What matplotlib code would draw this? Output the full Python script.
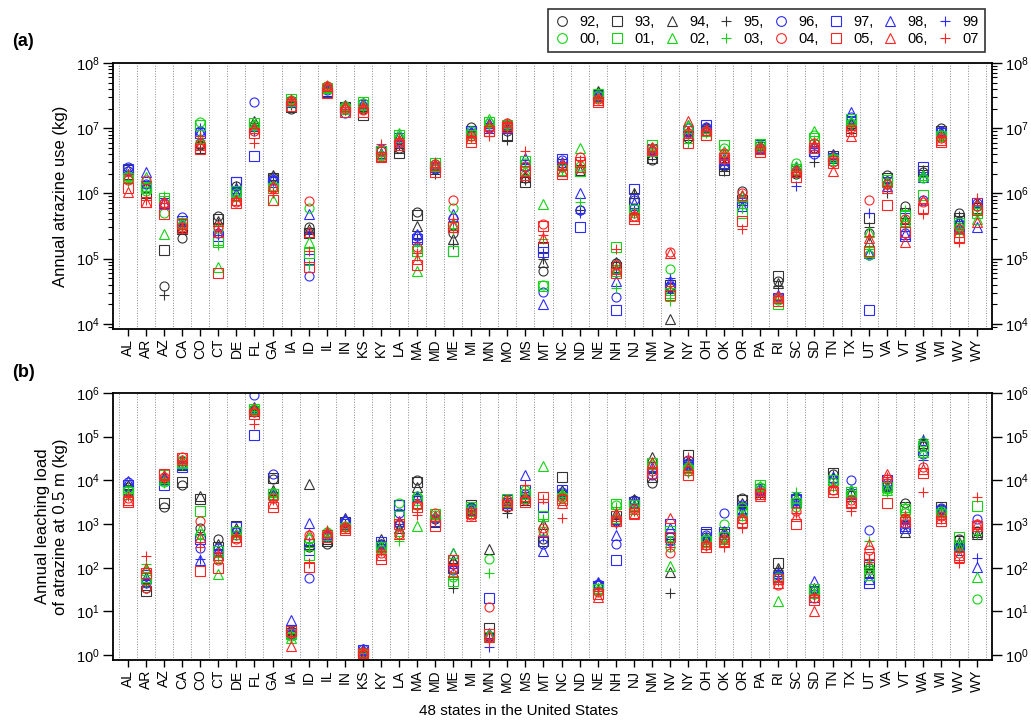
import numpy as np
import matplotlib
matplotlib.use("Agg")
import matplotlib.pyplot as plt
from matplotlib.lines import Line2D
from matplotlib.ticker import LogLocator, NullLocator, NullFormatter

plt.rcParams["font.family"] = ["Liberation Sans", "DejaVu Sans"]
plt.rcParams["mathtext.default"] = "regular"

states = ["AL", "AR", "AZ", "CA", "CO", "CT", "DE", "FL", "GA", "IA", "ID", "IL",
          "IN", "KS", "KY", "LA", "MA", "MD", "ME", "MI", "MN", "MO", "MS", "MT",
          "NC", "ND", "NE", "NH", "NJ", "NM", "NV", "NY", "OH", "OK", "OR", "PA",
          "RI", "SC", "SD", "TN", "TX", "UT", "VA", "VT", "WA", "WI", "WV", "WY"]

years = ["92", "93", "94", "95", "96", "97", "98", "99",
         "00", "01", "02", "03", "04", "05", "06", "07"]

# annual atrazine use (kg), one row per state, columns 1992..2007
use_kg = [
    [2.2e6, 2.3e6, 2.0e6, 2.0e6, 2.5e6, 2.4e6, 2.3e6, 1.6e6, 1.8e6, 1.7e6, 1.9e6, 1.5e6, 1.6e6, 1.2e6, 1.05e6, 2.0e6],  # AL
    [1.2e6, 1.0e6, 1.3e6, 1.1e6, 1.4e6, 1.3e6, 2.1e6, 1.2e6, 1.1e6, 1.2e6, 1.8e6, 1.1e6, 1.6e6, 7.5e5, 7.5e5, 8e5],  # AR
    [3.8e4, 1.35e5, 7.5e5, 2.8e4, 7e5, 7e5, 7.5e5, 7e5, 5e5, 8.5e5, 2.4e5, 9e5, 7e5, 4.8e5, 7.5e5, 7e5],  # AZ
    [2.05e5, 2.8e5, 3.0e5, 3.2e5, 4.4e5, 3.8e5, 3.5e5, 3.3e5, 3.3e5, 3.5e5, 3.6e5, 3.0e5, 3.0e5, 3.4e5, 2.9e5, 2.8e5],  # CA
    [5.5e6, 5e6, 6e6, 5e6, 9e6, 8.5e6, 9e6, 1e7, 1.25e7, 1.1e7, 7e6, 6.5e6, 6e6, 4.8e6, 5.5e6, 7.5e6],  # CO
    [4.5e5, 4e5, 3.8e5, 3.5e5, 2.5e5, 2.2e5, 2.6e5, 2.3e5, 2.8e5, 1.8e5, 7.5e4, 1.6e5, 3e5, 6e4, 2.6e5, 3.2e5],  # CT
    [1.3e6, 1.5e6, 1.2e6, 1.3e6, 1.1e6, 1.5e6, 1.0e6, 1.2e6, 1.0e6, 1.1e6, 9e5, 9e5, 7.5e5, 7e5, 8e5, 8e5],  # DE
    [1.1e7, 1.0e7, 1.3e7, 1.1e7, 2.5e7, 3.8e6, 1.0e7, 9e6, 1.1e7, 1.2e7, 1.1e7, 1.0e7, 9e6, 8.5e6, 1.0e7, 6e6],  # FL
    [1.8e6, 1.7e6, 1.9e6, 1.6e6, 1.6e6, 1.5e6, 1.7e6, 1.4e6, 1.3e6, 1.2e6, 8e5, 1.1e6, 1.2e6, 8e5, 1.3e6, 1.0e6],  # GA
    [2.0e7, 2.1e7, 2.5e7, 2.3e7, 2.6e7, 2.5e7, 2.6e7, 2.4e7, 2.7e7, 2.8e7, 2.6e7, 2.4e7, 2.6e7, 2.2e7, 2.7e7, 2.8e7],  # IA
    [3e5, 2.5e5, 2.8e5, 2.6e5, 5.5e4, 1e5, 4.8e5, 2.5e5, 6e5, 1.2e5, 1.8e5, 8e4, 7.6e5, 7.3e4, 2.6e5, 1.3e5],  # ID
    [4.2e7, 3.7e7, 4.3e7, 4.0e7, 3.8e7, 3.6e7, 4.4e7, 4.1e7, 4.5e7, 4.2e7, 4.3e7, 4.0e7, 4.4e7, 3.5e7, 4.5e7, 4.6e7],  # IL
    [2.2e7, 2.1e7, 2.3e7, 2.0e7, 1.7e7, 2.0e7, 2.1e7, 1.9e7, 2.2e7, 2.0e7, 2.1e7, 1.9e7, 2.0e7, 1.8e7, 2.2e7, 2.0e7],  # IN
    [2.0e7, 1.6e7, 2.2e7, 2.0e7, 2.2e7, 2.3e7, 2.4e7, 2.1e7, 2.4e7, 2.5e7, 2.3e7, 2.0e7, 1.9e7, 1.8e7, 2.1e7, 2.3e7],  # KS
    [4.5e6, 4.5e6, 4.0e6, 4.3e6, 4.8e6, 4.5e6, 4.2e6, 4.0e6, 3.8e6, 4.5e6, 4.0e6, 3.8e6, 4.5e6, 3.6e6, 3.8e6, 5.8e6],  # KY
    [5e6, 4.2e6, 5e6, 5.5e6, 6e6, 7e6, 7.5e6, 6e6, 7e6, 8e6, 8.5e6, 7.5e6, 6e6, 5.5e6, 6.5e6, 7e6],  # LA
    [5.2e5, 4.6e5, 3.2e5, 2.1e5, 2.2e5, 2.0e5, 2.4e5, 1.8e5, 1.4e5, 1.3e5, 6.5e4, 1.1e5, 1.5e5, 8e4, 1.0e5, 1.2e5],  # MA
    [2.4e6, 2.5e6, 2.8e6, 2.0e6, 2.6e6, 2.5e6, 2.7e6, 2.4e6, 2.8e6, 2.9e6, 2.6e6, 2.5e6, 2.8e6, 2.1e6, 2.7e6, 3.0e6],  # MD
    [2.5e5, 3e5, 2e5, 1.7e5, 4.2e5, 1.3e5, 4.8e5, 3.8e5, 6e5, 1.3e5, 3.5e5, 2.7e5, 7.8e5, 3e5, 3.3e5, 4e5],  # ME
    [1.05e7, 9e6, 9e6, 8e6, 8.5e6, 9e6, 8.5e6, 7.5e6, 9e6, 8e6, 8e6, 7e6, 7.5e6, 6.2e6, 7e6, 7.5e6],  # MI
    [1.0e7, 9e6, 1.1e7, 9.5e6, 1.05e7, 1.0e7, 1.2e7, 1.0e7, 1.2e7, 1.25e7, 1.4e7, 1.1e7, 1.0e7, 9e6, 1.1e7, 7.5e6],  # MN
    [9e6, 7.5e6, 1.0e7, 6.5e6, 1.1e7, 1.0e7, 1.1e7, 9.5e6, 1.15e7, 1.1e7, 1.2e7, 1.0e7, 1.2e7, 1.05e7, 1.1e7, 1.2e7],  # MO
    [1.7e6, 1.5e6, 1.8e6, 1.6e6, 2.5e6, 2.7e6, 3.5e6, 2.8e6, 2.9e6, 3.1e6, 2.3e6, 2.5e6, 2.6e6, 2.2e6, 1.9e6, 4.4e6],  # MS
    [6.5e4, 1.5e5, 9e4, 1.0e5, 3.1e4, 1.25e5, 2e4, 1.2e5, 4e4, 3.8e4, 6.8e5, 2e5, 3.4e5, 3.2e5, 2.1e5, 2.3e5],  # MT
    [2.5e6, 2.8e6, 2.7e6, 2.4e6, 3.3e6, 3.4e6, 3.0e6, 2.9e6, 2.5e6, 2.3e6, 2.2e6, 2.4e6, 2.6e6, 2.0e6, 2.2e6, 2.9e6],  # NC
    [5.5e5, 2.3e6, 2.2e6, 5.5e5, 5.5e5, 3.1e5, 1.0e6, 5e5, 2.6e6, 2.2e6, 5e6, 7.5e5, 3.6e6, 3e6, 2.5e6, 3.2e6],  # ND
    [3.5e7, 3.2e7, 3.7e7, 3.3e7, 3.0e7, 3.1e7, 3.4e7, 3.0e7, 3.2e7, 3.3e7, 3.0e7, 2.9e7, 2.8e7, 2.5e7, 2.7e7, 2.9e7],  # NE
    [8.5e4, 7.5e4, 9e4, 8e4, 2.6e4, 1.65e4, 4.5e4, 6e4, 7e4, 1.5e5, 6.5e4, 3.5e4, 8e4, 6e4, 7e4, 1.4e5],  # NH
    [6e5, 7e5, 1e6, 1e6, 8e5, 1.15e6, 7e5, 5.5e5, 5e5, 5.5e5, 4.5e5, 5e5, 4.5e5, 4e5, 4.5e5, 5e5],  # NJ
    [3.2e6, 3.5e6, 4e6, 3.8e6, 4.5e6, 4.8e6, 5e6, 4.2e6, 5e6, 5.5e6, 4.5e6, 4.6e6, 4.4e6, 4.7e6, 5.2e6, 4.5e6],  # NM
    [3.5e4, 4e4, 1.2e4, 3.2e4, 3.8e4, 3.5e4, 4.5e4, 5e4, 6.8e4, 3e4, 3.3e4, 2.2e4, 1.25e5, 2.8e4, 1.2e5, 3.8e4],  # NV
    [7e6, 8e6, 9e6, 7.5e6, 1.0e7, 9e6, 1.1e7, 8e6, 1.05e7, 7e6, 1.1e7, 6e6, 8.5e6, 6e6, 1.3e7, 9e6],  # NY
    [1.0e7, 9e6, 1.05e7, 9.5e6, 1.05e7, 1.1e7, 1.0e7, 9.5e6, 9e6, 8e6, 9e6, 8.5e6, 9e6, 8e6, 9.5e6, 1.0e7],  # OH
    [2.6e6, 2.3e6, 2.8e6, 2.2e6, 3.2e6, 2.9e6, 3.5e6, 2.7e6, 5e6, 5.5e6, 4.5e6, 3.8e6, 4.2e6, 3.5e6, 4e6, 3.2e6],  # OK
    [1.1e6, 8e5, 9e5, 6e5, 8e5, 7e5, 6.5e5, 7.5e5, 8e5, 5e5, 9e5, 6e5, 1.0e6, 3.8e5, 9.5e5, 2.8e5],  # OR
    [5e6, 5.2e6, 5.5e6, 4.8e6, 5e6, 5.5e6, 5e6, 4.8e6, 5.5e6, 5.8e6, 5.3e6, 5e6, 5e6, 4.3e6, 4.8e6, 5.2e6],  # PA
    [4.5e4, 5.5e4, 4.2e4, 3.8e4, 2.6e4, 2.5e4, 2.8e4, 2.7e4, 2.3e4, 2e4, 2.6e4, 2.4e4, 2.6e4, 2.2e4, 2.5e4, 2.7e4],  # RI
    [2.0e6, 2.2e6, 2.3e6, 2.1e6, 2.2e6, 2.4e6, 2.5e6, 1.3e6, 2.9e6, 2.4e6, 2.6e6, 2.0e6, 2.2e6, 1.8e6, 2.1e6, 2.3e6],  # SC
    [5e6, 4.5e6, 5.5e6, 3.0e6, 4e6, 4.5e6, 5.5e6, 5e6, 8e6, 7e6, 9e6, 6.5e6, 6e6, 5e6, 5.5e6, 6e6],  # SD
    [3.5e6, 3.8e6, 4e6, 3.7e6, 3.6e6, 3.5e6, 3.9e6, 3.4e6, 3.5e6, 3.3e6, 3.6e6, 3.2e6, 3.0e6, 2.9e6, 2.2e6, 3.8e6],  # TN
    [1.1e7, 1.0e7, 1.2e7, 1.0e7, 1.5e7, 1.3e7, 1.8e7, 1.2e7, 1.2e7, 1.4e7, 1.3e7, 1.1e7, 1.0e7, 9e6, 7.6e6, 9.5e6],  # TX
    [2.5e5, 4.2e5, 1.8e5, 3e5, 1.15e5, 1.6e4, 1.2e5, 5e5, 1.15e5, 1.25e5, 2.6e5, 1.4e5, 7.8e5, 1.3e5, 2.1e5, 2.2e5],  # UT
    [1.9e6, 1.7e6, 1.6e6, 1.0e6, 1.4e6, 1.5e6, 1.3e6, 1.5e6, 1.4e6, 1.6e6, 1.5e6, 1.3e6, 1.4e6, 6.7e5, 1.2e6, 1.3e6],  # VA
    [6.5e5, 5e5, 4e5, 3.5e5, 2.5e5, 2.2e5, 2.4e5, 5e5, 3.5e5, 4.5e5, 3.8e5, 5.5e5, 4e5, 2.6e5, 1.8e5, 3e5],  # VT
    [2.1e6, 2.2e6, 1.9e6, 2.3e6, 8e5, 2.5e6, 1.8e6, 2.0e6, 1.7e6, 9.5e5, 1.9e6, 1.8e6, 7.5e5, 6e5, 8e5, 4.8e5],  # WA
    [1.0e7, 9e6, 8.5e6, 8e6, 9e6, 8.5e6, 9e6, 8e6, 8e6, 7.5e6, 8e6, 7e6, 7e6, 6.2e6, 6.5e6, 7.5e6],  # WI
    [5e5, 4.2e5, 3.8e5, 4.5e5, 3.5e5, 3.2e5, 3e5, 2.8e5, 3e5, 3.5e5, 2.8e5, 2.5e5, 2.8e5, 2.1e5, 2.6e5, 1.8e5],  # WV
    [6.5e5, 6e5, 7e5, 6.2e5, 7e5, 7.2e5, 3.1e5, 6.5e5, 5.5e5, 5e5, 4e5, 4.8e5, 6.5e5, 5.5e5, 3.6e5, 8.5e5],  # WY
]

# annual leaching load at 0.5 m (kg), one row per state, columns 1992..2007
nan = np.nan
leach_kg = [
    [7e3, 6e3, 8e3, 6.5e3, 9e3, 8e3, 9.5e3, 5e3, 6e3, 5.5e3, 5e3, 5.5e3, 4e3, 3.2e3, 3.5e3, 4.5e3],  # AL
    [35, 30, 40, 45, 45, 70, 60, 55, 50, 60, 90, 120, 35, 75, 100, 185],  # AR
    [2.4e3, 3.1e3, 1.2e4, 9e3, 1.0e4, 8e3, 1.1e4, 1.2e4, 9e3, 1.3e4, 1.0e4, 8.5e3, 1.2e4, 1.4e4, 1.3e4, 1.1e4],  # AZ
    [8e3, 9e3, 2.2e4, 2.5e4, 2.8e4, 2.0e4, 2.4e4, 2.6e4, 3.0e4, 2.5e4, 2.7e4, 2.3e4, 3.5e4, 3.2e4, 3.0e4, 2.8e4],  # CA
    [8e2, 3.8e3, 4.5e3, 6e2, 2.8e2, 4.5e2, 1.5e2, 1.6e2, 6e2, 2e3, 7.5e2, 4.5e2, 1.2e3, 85, 5e2, 3e2],  # CO
    [4.5e2, 3e2, 3.5e2, 2.5e2, 2.8e2, 2e2, 2.6e2, 2.2e2, 1.7e2, 2.4e2, 72, 1.8e2, 1.5e2, 1e2, 2e2, 2.3e2],  # CT
    [7e2, 9e2, 8e2, 7e2, 6.5e2, 8.5e2, 6e2, 7e2, 5.5e2, 6.5e2, 5e2, 6e2, 4.5e2, 4e2, 5e2, 5.5e2],  # DE
    [4e5, 3.8e5, 4.8e5, 4e5, 9e5, 1.1e5, 4.5e5, 3.6e5, 4.2e5, 4.4e5, 4e5, 3.8e5, 3.6e5, 3.3e5, 4.2e5, 2e5],  # FL
    [1.05e4, 1.15e4, 6e3, 5.5e3, 1.4e4, 5e3, 5e3, 4.5e3, 4e3, 5e3, 5.5e3, 4.5e3, 4e3, 2.5e3, 3e3, 3.5e3],  # GA
    [3.5, 3.8, 3.2, 3.0, 3.0, 3.3, 6.5, 3.6, 2.8, 3.0, 2.5, 3.2, 3.3, 3.5, 1.6, 2.8],  # IA
    [3e2, 3.5e2, 8.3e3, 3.2e2, 58, 2.5e2, 1.05e3, 3.8e2, 4.5e2, 2e2, 5e2, 3e2, 5.5e2, 1.05e2, 6e2, 1.3e2],  # ID
    [3.5e2, 4e2, 4.5e2, 5e2, 5e2, 5.5e2, 6e2, 5e2, 6.5e2, 5.5e2, 7e2, 6e2, 6e2, 5e2, 6.5e2, 7.5e2],  # IL
    [1.2e3, 1.1e3, 1.4e3, 1.0e3, 1.2e3, 1.0e3, 1.3e3, 9e2, 9e2, 8e2, 9e2, 8e2, 8.5e2, 7.5e2, 8e2, 9e2],  # IN
    [1.2, 1.1, 1.3, 1.2, 1.35, 1.3, 1.4, 1.2, 1.1, 1.0, 1.2, 1.1, 1.05, 1.15, 1.2, 1.25],  # KS
    [3.5e2, 3e2, 4.5e2, 3.2e2, 3.3e2, 3.8e2, 3.5e2, 2.8e2, 2.5e2, 3e2, 3.2e2, 2.6e2, 2.2e2, 1.6e2, 2e2, 2.4e2],  # KY
    [1.0e3, 2.8e3, 8e2, 9e2, 1.8e3, 2.8e3, 1.2e3, 1.0e3, 3e3, 1.5e3, 7e2, 4e2, 6e2, 1.0e3, 6e2, 1.2e3],  # LA
    [1e4, 9e3, 7e3, 4.5e3, 4e3, 3.5e3, 4.5e3, 3.8e3, 4.5e3, 3.5e3, 9e2, 2.2e3, 2.8e3, 2.5e3, 3e3, 1.6e3],  # MA
    [1.3e3, 1.1e3, 1.5e3, 1.2e3, 1.4e3, 1.2e3, 1.5e3, 1.3e3, 1.6e3, 1.7e3, 1.5e3, 1.4e3, 1.8e3, 9e2, 1.5e3, 1.2e3],  # MD
    [1.2e2, 1.0e2, 1.5e2, 35, 90, 1.3e2, 2.2e2, 1.1e2, 60, 50, 2.2e2, 55, 1.0e2, 1.5e2, 80, 1.2e2],  # ME
    [2.5e3, 2.7e3, 2.2e3, 2e3, 2.3e3, 2.1e3, 2.4e3, 2e3, 2.2e3, 2.4e3, 2e3, 1.8e3, 1.6e3, 1.8e3, 1.5e3, 2e3],  # MI
    [2.8, 4.3, 2.7e2, 2.5, 2.6, 20, 3.2, 1.5, 1.6e2, 2.6, 3.0, 76, 13, 3.0, 2.8, 2.0],  # MN
    [2.5e3, 3e3, 2.8e3, 1.8e3, 3.2e3, 3.5e3, 3.0e3, 2.8e3, 3.5e3, 3.8e3, 3.3e3, 3e3, 3.5e3, 2.7e3, 3.2e3, 3.6e3],  # MO
    [4e3, 3.5e3, 4.5e3, 4e3, 5e3, 6e3, 1.3e4, 5.5e3, 6e3, 5e3, 4e3, 5e3, 3.5e3, 3.2e3, 4.5e3, 8e3],  # MS
    [4.5e2, 4e2, 1e3, 1.2e3, 3.5e2, 2.5e3, 2.4e2, 5e2, 7e2, 1.5e3, 2.1e4, 1.3e3, 8e2, 4.2e3, 7e2, 3.8e3],  # MT
    [5e3, 1.2e4, 6e3, 5e3, 5.5e3, 6e3, 5e3, 4.5e3, 4.5e3, 4e3, 5e3, 4.2e3, 4e3, 3.5e3, 3e3, 1.4e3],  # NC
    [nan] * 16,  # ND
    [40, 38, 45, 35, 42, 38, 48, 35, 30, 32, 35, 30, 28, 25, 22, 30],  # NE
    [1.2e3, 1.5e3, 1.8e3, 1.3e3, 3.5e2, 1.5e2, 5.5e2, 1.0e3, 2.8e3, 2.9e3, 1.4e3, 2.5e3, 1.1e3, 1.2e3, 1.5e3, 2.0e3],  # NH
    [3.5e3, 3.2e3, 3.8e3, 3.5e3, 3e3, 3.2e3, 2.8e3, 2.5e3, 2.5e3, 2.8e3, 2.2e3, 2.0e3, 2.2e3, 1.8e3, 1.7e3, 2e3],  # NJ
    [8.5e3, 1.2e4, 3.5e4, 1.5e4, 1.3e4, 1.5e4, 2e4, 1.6e4, 2.2e4, 2.5e4, 2.5e4, 1.8e4, 1.6e4, 1.5e4, 2.7e4, 2.0e4],  # NM
    [5e2, 6e2, 80, 26, 4e2, 1.0e3, 8e2, 3.5e2, 3e2, 7e2, 1.1e2, 4e2, 2.2e2, 5e2, 1.4e3, 3e2],  # NV
    [2.5e4, 3.8e4, 2.8e4, 2e4, 3e4, 2.2e4, 2.5e4, 1.8e4, 2e4, 1.7e4, 2.2e4, 1.5e4, 1.6e4, 1.3e4, 2e4, 3.5e4],  # NY
    [5e2, 6e2, 4.5e2, 4e2, 5.5e2, 6.5e2, 5e2, 4e2, 4.5e2, 4e2, 3.8e2, 3.5e2, 3.3e2, 3e2, 3.5e2, 3.2e2],  # OH
    [5e2, 6e2, 7e2, 5.5e2, 1.8e3, 6.5e2, 6e2, 5e2, 1.0e3, 5e2, 4.5e2, 4e2, 4.5e2, 3.8e2, 4e2, 3e2],  # OK
    [4e3, 3.5e3, 3e3, 2.5e3, 2.8e3, 2.2e3, 2e3, 1.8e3, 2.5e3, 2e3, 1.6e3, 1.5e3, 1.3e3, 1.1e3, 1.4e3, 8.2e2],  # OR
    [6e3, 6.5e3, 5.5e3, 5e3, 6e3, 6.5e3, 6e3, 5.5e3, 7e3, 8e3, 7.5e3, 6e3, 5.5e3, 5e3, 4.5e3, 5.5e3],  # PA
    [80, 1.3e2, 1e2, 90, 70, 60, 75, 65, 60, 55, 17, 50, 40, 55, 45, 50],  # RI
    [3e3, 3.5e3, 4e3, 3e3, 4.2e3, 3.8e3, 3.2e3, 2.8e3, 2.5e3, 3e3, 4e3, 5.5e3, 2e3, 1.0e3, 1.5e3, 1.8e3],  # SC
    [30, 28, 35, 25, 25, 22, 50, 28, 30, 32, 27, 25, 20, 18, 10, 22],  # SD
    [1.4e4, 1.5e4, 1.2e4, 1.3e4, 1.1e4, 1.0e4, 1.2e4, 9e3, 9e3, 1e4, 8e3, 7e3, 6e3, 5.5e3, 6.5e3, 7.5e3],  # TN
    [5e3, 4.5e3, 5.5e3, 4e3, 1.0e4, 5e3, 6e3, 4.5e3, 5e3, 5.5e3, 6e3, 4e3, 3.5e3, 3e3, 3.2e3, 2e3],  # TX
    [1e2, 1.2e2, 80, 1.1e2, 7.4e2, 45, 55, 1.5e2, 90, 70, 1.3e2, 4e2, 2.5e2, 1.8e2, 3.5e2, 1.6e2],  # UT
    [8e3, 9e3, 7e3, 6e3, 8.5e3, 1.0e4, 7.5e3, 7e3, 6.5e3, 7e3, 6e3, 5.5e3, 1.1e4, 3e3, 1.4e4, 1.2e4],  # VA
    [3e3, 2.5e3, 6.5e2, 1.2e3, 1e3, 8e2, 9e2, 1.1e3, 1.8e3, 2.2e3, 2.5e3, 1.5e3, 1.4e3, 1.1e3, 1.3e3, 1.6e3],  # VT
    [6e4, 5e4, 7e4, 9e4, 4e4, 5e4, 8.5e4, 3e4, 7.5e4, 6e4, 4.5e4, 3.5e4, 2e4, 1.5e4, 1.8e4, 5.5e3],  # WA
    [2.2e3, 2.4e3, 2e3, 1.8e3, 2.3e3, 2e3, 2.2e3, 1.8e3, 2e3, 1.7e3, 1.9e3, 1.6e3, 1.5e3, 1.2e3, 1.4e3, 1.3e3],  # WI
    [4.5e2, 4e2, 3.8e2, 3.5e2, 3e2, 2.5e2, 3.2e2, 2.8e2, 3.5e2, 5e2, 3e2, 2.5e2, 2.2e2, 1.8e2, 2e2, 1.3e2],  # WV
    [7e2, 6.5e2, 6e2, 6e2, 1.3e3, 9e2, 1.05e2, 1.65e2, 19.5, 2.6e3, 62, 6e2, 1e3, 9e2, 1.0e3, 4.2e3],  # WY
]

# year groups: 92-95 black, 96-99 blue, 00-03 green, 04-07 red
colors = ["#333333"] * 4 + ["#2b2bff"] * 4 + ["#14d414"] * 4 + ["#ff2424"] * 4
markers = ["o", "s", "^", "+"] * 4

x = np.arange(1, len(states) + 1)
use = np.array(use_kg)
leach = np.array(leach_kg)

fig = plt.figure(figsize=(10.31, 7.24), dpi=100)
ax1 = fig.add_axes([0.1096, 0.5456, 0.8526, 0.3674])
ax2 = fig.add_axes([0.1096, 0.0884, 0.8526, 0.3688])


def draw_panel(ax, data, ylim, minor=True):
    for xv in np.arange(0.5, len(states) + 1, 1.0):
        ax.axvline(xv, color="#8c8c8c", linestyle=":", linewidth=0.7, zorder=0)
    for j in range(len(years)):
        ax.plot(x, data[:, j], linestyle="none", marker=markers[j],
                markerfacecolor="none", markeredgecolor=colors[j],
                markersize=6.5 if markers[j] != "+" else 7.5,
                markeredgewidth=0.8)
    ax.set_yscale("log")
    ax.set_ylim(*ylim)
    ax.set_xlim(0.17, len(states) + 0.83)
    ax.set_xticks(x)
    ax.set_xticklabels(states, rotation=90, fontsize=10)
    ax.yaxis.set_major_locator(LogLocator(base=10, numticks=12))
    if minor:
        ax.yaxis.set_minor_locator(LogLocator(base=10, subs=np.arange(2, 10), numticks=12))
    else:
        ax.yaxis.set_minor_locator(NullLocator())
    ax.yaxis.set_minor_formatter(NullFormatter())
    ax.tick_params(axis="y", which="major", direction="out", length=7, width=1,
                   left=True, right=True, labelleft=True, labelright=True,
                   labelsize=10.5, pad=2.5)
    ax.tick_params(axis="y", which="minor", direction="out", length=3.5, width=0.8,
                   left=True, right=True)
    ax.tick_params(axis="x", which="major", direction="out", length=5, width=1,
                   labelsize=10, pad=2)
    for s in ax.spines.values():
        s.set_linewidth(1.3)


draw_panel(ax1, use, (10 ** 3.92, 1e8), minor=True)
draw_panel(ax2, leach, (10 ** -0.11, 1e6), minor=False)

ax1.set_ylabel("Annual atrazine use (kg)", fontsize=12, labelpad=6)
ax2.set_ylabel("Annual leaching load\nof atrazine at 0.5 m (kg)", fontsize=12, labelpad=6)

fig.text(0.012, 0.937, "(a)", fontsize=13, fontweight="bold")
fig.text(0.012, 0.479, "(b)", fontsize=13, fontweight="bold")
fig.text(0.503, 0.012, "48 states in the United States", fontsize=11, ha="center",
         family=["Liberation Sans Narrow", "Liberation Sans", "DejaVu Sans"])

# legend: two rows (92-99, 00-07), filled column by column
handles, labels = [], []
for c in range(8):
    for j in (c, c + 8):
        handles.append(Line2D([], [], linestyle="none", marker=markers[j],
                              markerfacecolor="none", markeredgecolor=colors[j],
                              markersize=7, markeredgewidth=0.8))
        labels.append(years[j] + ("," if c < 7 else ""))
leg = fig.legend(handles, labels, ncol=8, loc="upper right",
                 bbox_to_anchor=(0.962, 0.997), fontsize=10.5, frameon=True,
                 fancybox=False, handlelength=1.2, handletextpad=0.6,
                 columnspacing=0.55, labelspacing=0.2, borderpad=0.4)
leg.get_frame().set_edgecolor("black")
leg.get_frame().set_linewidth(1.2)

fig.savefig("out.png", dpi=100)
